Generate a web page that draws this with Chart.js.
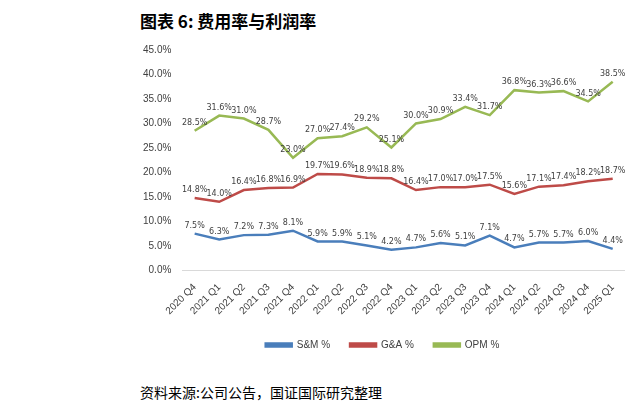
<!DOCTYPE html>
<html>
<head>
<meta charset="utf-8">
<script src="https://cdn.jsdelivr.net/npm/chart.js@4"></script>
<style>
  body { margin: 0; width: 632px; height: 416px; background: #fff; font-family: "Noto Sans CJK SC", sans-serif; overflow: hidden; }
  #title { position: absolute; left: 140px; top: 8px; font-size: 17px; font-weight: bold; color: #000; }
  #box { position: absolute; left: 140px; top: 40px; width: 485px; height: 320px; }
  #source { position: absolute; left: 140px; top: 382px; font-size: 14px; color: #000; }
</style>
</head>
<body>
<div id="title">图表 6: 费用率与利润率</div>
<div id="box"><canvas id="chart"></canvas></div>
<div id="source">资料来源:公司公告，国证国际研究整理</div>
<script>
const quarters = ['2020 Q4','2021 Q1','2021 Q2','2021 Q3','2021 Q4','2022 Q1','2022 Q2','2022 Q3','2022 Q4',
  '2023 Q1','2023 Q2','2023 Q3','2023 Q4','2024 Q1','2024 Q2','2024 Q3','2024 Q4','2025 Q1'];
const smRate = [7.5, 6.3, 7.2, 7.3, 8.1, 5.9, 5.9, 5.1, 4.2, 4.7, 5.6, 5.1, 7.1, 4.7, 5.7, 5.7, 6.0, 4.4];
const gaRate = [14.8, 14.0, 16.4, 16.8, 16.9, 19.7, 19.6, 18.9, 18.8, 16.4, 17.0, 17.0, 17.5, 15.6, 17.1, 17.4, 18.2, 18.7];
const opmRate = [28.5, 31.6, 31.0, 28.7, 23.0, 27.0, 27.4, 29.2, 25.1, 30.0, 30.9, 33.4, 31.7, 36.8, 36.3, 36.6, 34.5, 38.5];

const valueLabels = {
  id: 'valueLabels',
  afterDatasetsDraw(chart) {
    const c = chart.ctx;
    c.save();
    c.font = '8px "DejaVu Sans", sans-serif';
    c.fillStyle = '#404040';
    c.textAlign = 'center';
    chart.data.datasets.forEach((ds, i) => {
      chart.getDatasetMeta(i).data.forEach((pt, j) => {
        c.fillText(ds.data[j].toFixed(1) + '%', pt.x, pt.y - 8);
      });
    });
    c.restore();
  }
};

new Chart(document.getElementById('chart'), {
  type: 'line',
  data: {
    labels: quarters,
    datasets: [
      { label: 'S&M %', data: smRate, borderColor: '#4a7ebb', backgroundColor: '#4a7ebb', borderWidth: 2.5, pointRadius: 0 },
      { label: 'G&A %', data: gaRate, borderColor: '#be4b48', backgroundColor: '#be4b48', borderWidth: 2.5, pointRadius: 0 },
      { label: 'OPM %', data: opmRate, borderColor: '#98b954', backgroundColor: '#98b954', borderWidth: 2.5, pointRadius: 0 }
    ]
  },
  options: {
    responsive: true,
    maintainAspectRatio: false,
    animation: false,
    layout: { padding: { left: 0, right: 0, top: 10 } },
    scales: {
      y: {
        min: 0, max: 45,
        ticks: { stepSize: 5, callback: v => v.toFixed(1) + '%', font: { size: 10 }, color: '#404040' },
        grid: { display: false },
        border: { display: false }
      },
      x: {
        offset: true,
        ticks: { maxRotation: 45, minRotation: 45, font: { size: 10 }, color: '#404040' },
        grid: { display: false },
        border: { color: '#d9d9d9' }
      }
    },
    plugins: {
      legend: {
        position: 'bottom',
        labels: { boxWidth: 26, boxHeight: 3, font: { size: 10 }, color: '#404040', padding: 20 }
      },
      tooltip: { enabled: false }
    }
  },
  plugins: [valueLabels]
});
</script>
</body>
</html>
